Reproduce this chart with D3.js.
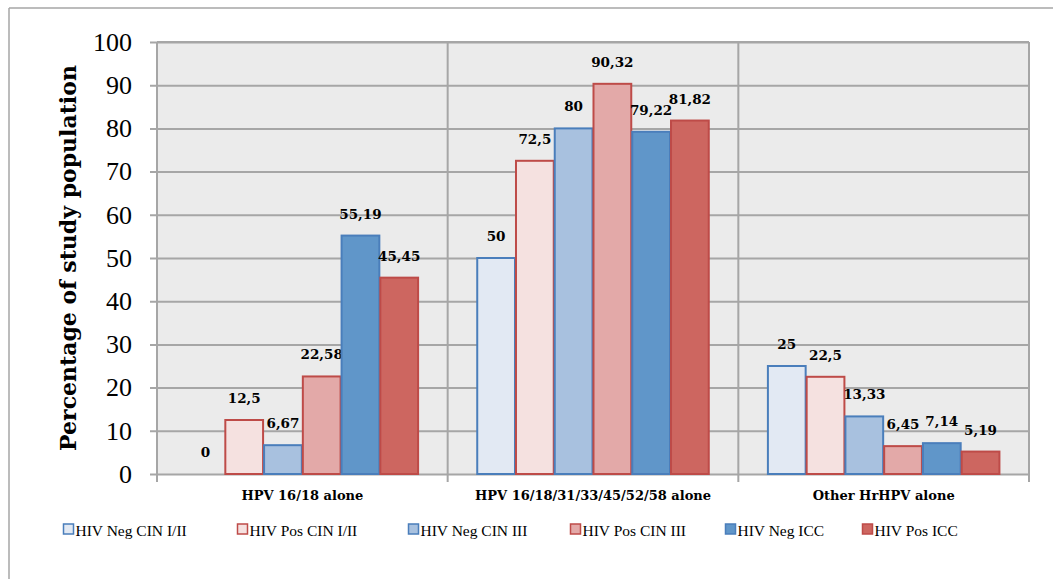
<!DOCTYPE html>
<html><head><meta charset="utf-8">
<script src="https://cdn.jsdelivr.net/npm/d3@7"></script>
<style>
html,body{margin:0;padding:0;background:#fff;}
svg{display:block;}
</style></head>
<body>
<svg id="chart" width="1053" height="579"></svg>
<script>
const categories = ["HPV 16/18 alone", "HPV 16/18/31/33/45/52/58 alone", "Other HrHPV alone"];
const seriesNames = ["HIV Neg CIN I/II", "HIV Pos CIN I/II", "HIV Neg CIN III", "HIV Pos CIN III", "HIV Neg ICC", "HIV Pos ICC"];
const negCin12 = [0, 50, 25];
const posCin12 = [12.5, 72.5, 22.5];
const negCin3 = [6.67, 80, 13.33];
const posCin3 = [22.58, 90.32, 6.45];
const negIcc = [55.19, 79.22, 7.14];
const posIcc = [45.45, 81.82, 5.19];
const seriesValues = [negCin12, posCin12, negCin3, posCin3, negIcc, posIcc];
const yTicks = [0, 10, 20, 30, 40, 50, 60, 70, 80, 90, 100];
const fills = ["#e2e9f3", "#f5e1e0", "#a8c1df", "#e3a9a8", "#6096c9", "#cd6660"];
const strokes = ["#4a7ebb", "#be4b48", "#4a7ebb", "#be4b48", "#4a7ebb", "#be4b48"];

const SERIF = "'DejaVu Serif', serif";
const TIMES = "'Liberation Serif', serif";

const svg = d3.select("#chart");
const L = 157, R = 1029, T = 42, B = 474;

// outer frame (only top/left visible)
svg.append("line").attr("x1", 9).attr("x2", 1053).attr("y1", 8).attr("y2", 8).attr("stroke", "#a6a6a6").attr("stroke-width", 1.5);
svg.append("line").attr("x1", 9).attr("x2", 9).attr("y1", 8).attr("y2", 579).attr("stroke", "#a6a6a6").attr("stroke-width", 1.5);

const x0 = d3.scaleBand().domain(categories).range([L, R]).padding(0);
const x1 = d3.scaleBand().domain(seriesNames).range([x0.bandwidth() * 0.1, x0.bandwidth() * 0.9]).padding(0);
const y = d3.scaleLinear().domain([0, 100]).range([B, T]);

svg.append("rect").attr("x", L).attr("y", T).attr("width", R - L).attr("height", B - T).attr("fill", "#ebebeb");

// gridlines + tick marks
const yAxis = d3.axisLeft(y).tickValues(yTicks).tickSize(R - L + 7).tickFormat(d => d).tickPadding(18);
const gy = svg.append("g").attr("transform", `translate(${R},0)`).call(yAxis);
gy.select(".domain").remove();
gy.selectAll(".tick line").attr("stroke", "#a6a6a6").attr("stroke-width", 2);
gy.selectAll(".tick text").attr("fill", "#000").style("font-family", TIMES).style("font-size", "26px");

// vertical dividers
const xAxis = d3.axisBottom(x0).tickSize(0).tickPadding(17);
const divs = [L].concat(categories.map(c => x0(c) + x0.bandwidth()));
svg.append("g").selectAll("line").data(divs).join("line")
  .attr("x1", d => d).attr("x2", d => d).attr("y1", T).attr("y2", B + 8)
  .attr("stroke", "#a6a6a6").attr("stroke-width", 2);
svg.append("line").attr("x1", L).attr("x2", R).attr("y1", T).attr("y2", T).attr("stroke", "#a6a6a6").attr("stroke-width", 2);

const gx = svg.append("g").attr("transform", `translate(0,${B})`).call(xAxis);
gx.select(".domain").remove();
gx.selectAll(".tick text").attr("fill", "#000").style("font-family", SERIF).style("font-size", "13px").style("font-weight", "bold");

// bars
const groups = svg.append("g").selectAll("g").data(categories).join("g")
  .attr("transform", c => `translate(${x0(c)},0)`);
seriesNames.forEach((s, si) => {
  groups.append("rect")
    .attr("x", (c) => x1(s) + 0.5)
    .attr("y", (c, ci) => y(seriesValues[si][ci]))
    .attr("width", x1.bandwidth() - 1)
    .attr("height", (c, ci) => B - y(seriesValues[si][ci]))
    .attr("fill", fills[si]).attr("stroke", strokes[si]).attr("stroke-width", 2)
    .attr("display", (c, ci) => seriesValues[si][ci] === 0 ? "none" : null);
  groups.append("text")
    .attr("x", x1(s) + x1.bandwidth() / 2)
    .attr("y", (c, ci) => y(seriesValues[si][ci]) - 17)
    .attr("text-anchor", "middle").attr("fill", "#000")
    .style("font-family", SERIF).style("font-size", "13.5px").style("font-weight", "bold")
    .text((c, ci) => String(seriesValues[si][ci]).replace(".", ","));
});

// y axis title
svg.append("text").attr("transform", "translate(76,258) rotate(-90)")
  .attr("text-anchor", "middle")
  .style("font-family", SERIF).style("font-size", "22px").style("font-weight", "bold")
  .text("Percentage of study population");

// legend
const legendX = [63, 237, 408, 570, 725, 862];
const lg = svg.append("g").selectAll("g").data(seriesNames).join("g")
  .attr("transform", (d, i) => `translate(${legendX[i]},530)`);
lg.append("rect").attr("x", 0.5).attr("y", -6).attr("width", 10).attr("height", 10)
  .attr("fill", (d, i) => fills[i]).attr("stroke", (d, i) => strokes[i]).attr("stroke-width", 1.5);
lg.append("text").attr("x", 12.5).attr("y", 5.5).attr("fill", "#000")
  .style("font-family", TIMES).style("font-size", "15.5px").text(d => d);
</script>
</body></html>
